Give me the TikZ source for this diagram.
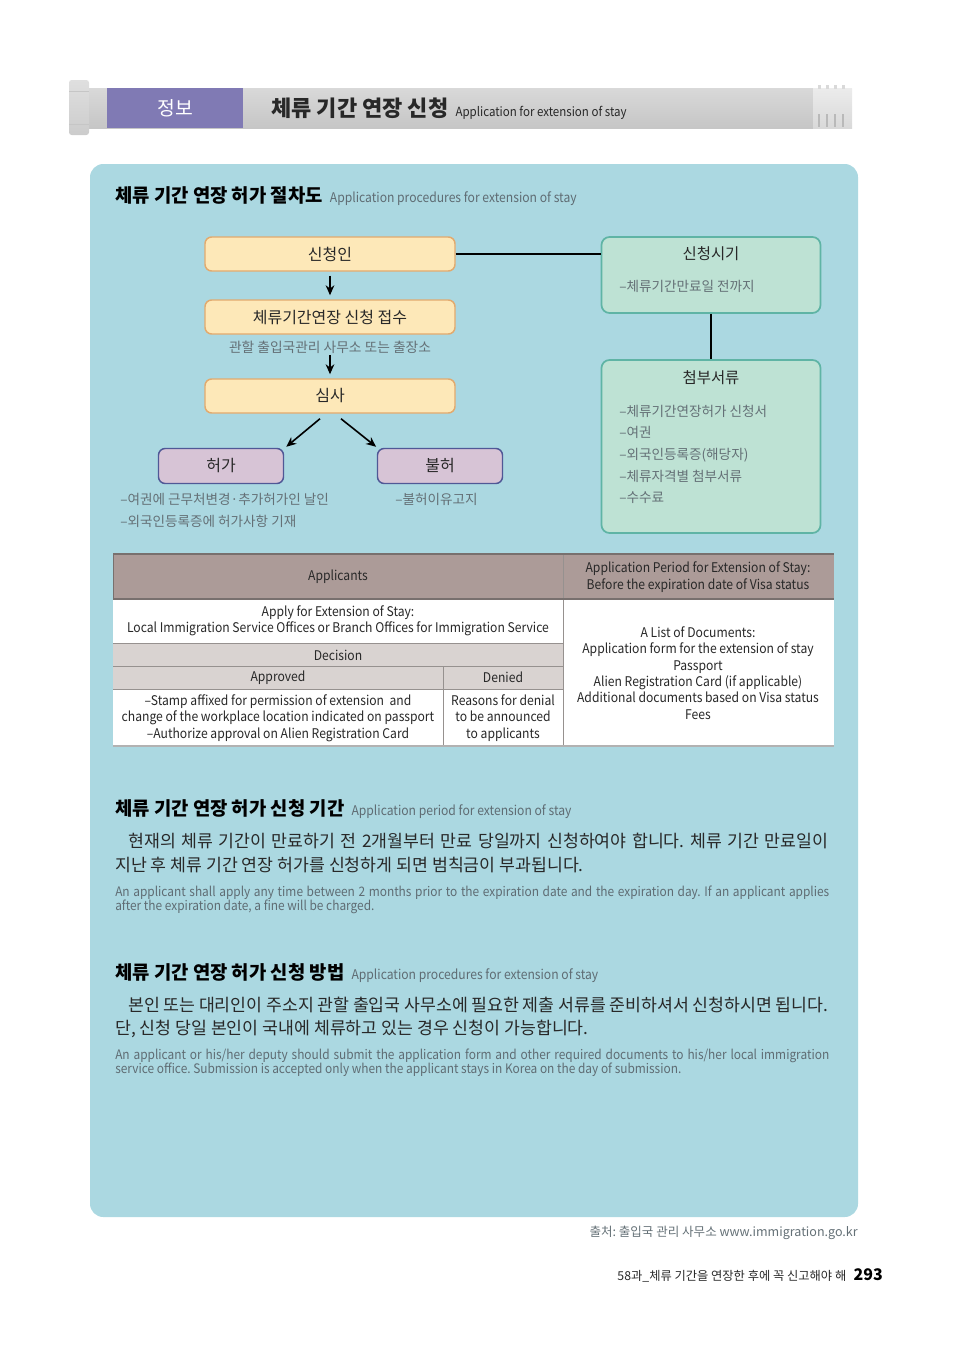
\documentclass[tikz,border=0pt]{standalone}
\usepackage{fontspec}
\setmainfont{Noto Sans CJK KR}
\newfontfamily\engfont[FakeStretch=0.91]{Noto Sans CJK KR}
\usetikzlibrary{arrows.meta,positioning}
\frenchspacing

\definecolor{panelblue}{RGB}{171,216,225}
\definecolor{flowfill}{RGB}{253,232,184}
\definecolor{flowedge}{RGB}{226,170,110}
\definecolor{resultfill}{RGB}{215,196,214}
\definecolor{resultedge}{RGB}{80,88,150}
\definecolor{infofill}{RGB}{190,226,212}
\definecolor{infoedge}{RGB}{95,180,165}
\definecolor{tagpurple}{RGB}{128,122,180}
\definecolor{tabhead}{RGB}{172,155,152}
\definecolor{tabgray}{RGB}{217,211,209}
\definecolor{tabrule}{RGB}{150,145,143}
\definecolor{tabedge}{RGB}{120,112,110}
\definecolor{notegray}{RGB}{100,112,118}
\definecolor{subgray}{RGB}{95,108,115}
\definecolor{inkdark}{RGB}{40,40,40}

\begin{document}
\begin{tikzpicture}
	[x=0.75pt,y=-0.75pt,
	flowbox/.style={draw=flowedge,fill=flowfill,rounded corners=5pt,line width=1.1pt,minimum width=187.5pt,minimum height=25.5pt,inner sep=0pt,font=\fontsize{12}{14}\selectfont,text=inkdark},
	resultbox/.style={draw=resultedge,fill=resultfill,rounded corners=5pt,line width=1.1pt,minimum width=93.75pt,minimum height=26.25pt,inner sep=0pt,font=\fontsize{12}{14}\selectfont,text=inkdark},
	infobox/.style={draw=infoedge,fill=infofill,rounded corners=6pt,line width=1.3pt,minimum width=164.25pt,inner sep=0pt},
	infohead/.style={font=\fontsize{11.6}{14}\selectfont,text=inkdark},
	item/.style={anchor=base west,inner sep=0pt,font=\fontsize{10.2}{12}\selectfont,text=notegray},
	note/.style={inner sep=1pt,font=\fontsize{10.3}{12}\selectfont,text=notegray},
	link/.style={line width=1.3pt,draw=black},
	flowarrow/.style={-{Stealth[length=7.5pt,width=6.5pt]},line width=1.2pt,shorten <=3pt,shorten >=3pt},
	sechead/.style={anchor=base west,inner sep=0pt,font=\bfseries\fontsize{14.1}{16}\selectfont,text=black},
	secsub/.style={anchor=base west,inner sep=0pt,font=\engfont\fontsize{10}{12}\selectfont,text=subgray},
	body/.style={anchor=base west,inner sep=0pt,font=\fontsize{12.95}{16}\selectfont,text=inkdark},
	bodyeng/.style={anchor=base west,inner sep=0pt,font=\engfont\fontsize{9.8}{11}\selectfont,text=subgray},
	cell/.style={align=center,inner sep=0pt,font=\engfont\fontsize{10}{12.3}\selectfont,text=inkdark}
	]
	\useasboundingbox (0,0) rectangle (960,1349);

	% title bar
	\shade[top color=gray!30,middle color=gray!8,bottom color=gray!45] (85,88) rectangle (813,128);
	\shade[top color=gray!15,middle color=gray!5,bottom color=gray!30] (813,88) rectangle (852,128);
	\foreach \t in {818,826,834,842}
	{
		\fill[gray!30] (\t,85) rectangle (\t+3,89);
		\fill[gray!55] (\t,114) rectangle (\t+2,127);
	}
	\shade[top color=gray!25,middle color=gray!8,bottom color=gray!40,rounded corners=2pt] (69,80) rectangle (89,135);
	\draw[gray!45] (69,91) -- (89,91) (69,124) -- (89,124);
	\node[fill=tagpurple,minimum width=102pt,minimum height=30pt,inner sep=0pt,text=white,font=\fontsize{14.5}{16}\selectfont] (tag) at (175,108) {정보};
	\node[anchor=base west,inner sep=0pt,font=\bfseries\fontsize{16.5}{18}\selectfont,text=inkdark] (title) at (271,116) {체류 기간 연장 신청};
	\node[anchor=base west,inner sep=0pt,font=\engfont\fontsize{9.5}{11}\selectfont,text=inkdark] (titlesub) at ([xshift=5pt]title.base east) {Application for extension of stay};

	% panel
	\fill[panelblue,rounded corners=10pt] (90,164) rectangle (858,1217);

	% procedure chart
	\node[sechead] (head1) at (115,202) {체류 기간 연장 허가 절차도};
	\node[secsub] (head1sub) at ([xshift=5pt]head1.base east) {Application procedures for extension of stay};

	\node[flowbox] (appl) at (330,254) {신청인};
	\node[flowbox] (recv) at (330,317) {체류기간연장 신청 접수};
	\node[note] (recvnote) at (330,347) {관할 출입국관리 사무소 또는 출장소};
	\node[flowbox] (exam) at (330,396) {심사};
	\node[resultbox] (grant) at (221,466) {허가};
	\node[resultbox] (deny) at (440,466) {불허};

	\draw[flowarrow] (appl) -- (recv);
	\draw[flowarrow,shorten <=0pt] (recvnote) -- (exam);
	\draw[flowarrow,shorten <=0pt,shorten >=0pt] ([xshift=-7.5pt,yshift=-3.75pt]exam.south) -- ([xshift=1.5pt,yshift=0.75pt]grant.north east);
	\draw[flowarrow,shorten <=0pt,shorten >=0pt] ([xshift=8.25pt,yshift=-3.75pt]exam.south) -- ([xshift=-0.5pt,yshift=0.75pt]deny.north west);

	\node[item] (grantA) at (120,504) {–여권에 근무처변경·추가허가인 날인};
	\node[item] (grantB) at (120,526) {–외국인등록증에 허가사항 기재};
	\node[item] (denyA) at (395,504) {–불허이유고지};

	\node[infobox,minimum height=57pt] (period) at (711,275) {};
	\node[infohead] (periodhead) at (711,254) {신청시기};
	\node[item] (periodA) at (619,291) {–체류기간만료일 전까지};

	\node[infobox,minimum height=129.75pt] (docs) at (711,446.5) {};
	\node[infohead] (docshead) at (711,378) {첨부서류};
	\node[item] (docsA) at (619,416) {–체류기간연장허가 신청서};
	\node[item] (docsB) at (619,437) {–여권};
	\node[item] (docsC) at (619,459) {–외국인등록증(해당자)};
	\node[item] (docsD) at (619,481) {–체류자격별 첨부서류};
	\node[item] (docsE) at (619,502) {–수수료};

	\draw[link] (appl.east) -- (appl.east -| period.west);
	\draw[link] (period.south) -- (docs.north);

	% table
	\fill[tabhead] (113,554) rectangle (834,599);
	\fill[white] (113,599) rectangle (834,746);
	\fill[tabgray] (113,643) rectangle (563,689);
	\draw[tabrule] (113,643) -- (563,643) (113,666) -- (563,666) (113,689) -- (563,689);
	\draw[tabrule] (563,554) -- (563,746) (443,666) -- (443,746);
	\draw[tabedge,line width=1pt] (113,554) -- (834,554) (113,599) -- (834,599);
	\draw[tabedge] (113,554) -- (113,599);
	\draw[gray!60,line width=1.5pt] (113,746) -- (834,746);

	\node[cell] (applicants) at (338,577) {Applicants};
	\node[cell] (periodcell) at (698,577) {Application Period for Extension of Stay:\\Before the expiration date of Visa status};
	\node[cell] (applycell) at (338,621) {Apply for Extension of Stay:\\Local Immigration Service Offices or Branch Offices for Immigration Service};
	\node[cell] (decision) at (338,655) {Decision};
	\node[cell] (approved) at (278,677.5) {Approved};
	\node[cell] (denied) at (503,677.5) {Denied};
	\node[cell] (approvedtext) at (278,718) {–Stamp affixed for permission of extension\ \ and\\change of the workplace location indicated on passport\\–Authorize approval on Alien Registration Card};
	\node[cell] (deniedtext) at (503,718) {Reasons for denial\\to be announced\\to applicants};
	\node[cell] (doclist) at (698,673) {A List of Documents:\\Application form for the extension of stay\\Passport\\Alien Registration Card (if applicable)\\Additional documents based on Visa status\\Fees};

	% application period
	\node[sechead] (head2) at (115,815) {체류 기간 연장 허가 신청 기간};
	\node[secsub] (head2sub) at ([xshift=5pt]head2.base east) {Application period for extension of stay};
	\node[body] (bodyA1) at (128,847.5) {\makebox[525pt][s]{현재의 체류 기간이 만료하기 전 2개월부터 만료 당일까지 신청하여야 합니다. 체류 기간 만료일이}};
	\node[body] (bodyA2) at (115,871.5) {지난 후 체류 기간 연장 허가를 신청하게 되면 범칙금이 부과됩니다.};
	\node[bodyeng] (engA1) at (115,896.5) {\makebox[535.5pt][s]{An applicant shall apply any time between 2 months prior to the expiration date and the expiration day. If an applicant applies}};
	\node[bodyeng] (engA2) at (115,910.5) {after the expiration date, a fine will be charged.};

	% application method
	\node[sechead] (head3) at (115,979) {체류 기간 연장 허가 신청 방법};
	\node[secsub] (head3sub) at ([xshift=5pt]head3.base east) {Application procedures for extension of stay};
	\node[body] (bodyB1) at (128,1011.5) {\makebox[525pt][s]{본인 또는 대리인이 주소지 관할 출입국 사무소에 필요한 제출 서류를 준비하셔서 신청하시면 됩니다.}};
	\node[body] (bodyB2) at (115,1034.5) {단, 신청 당일 본인이 국내에 체류하고 있는 경우 신청이 가능합니다.};
	\node[bodyeng] (engB1) at (115,1059.5) {\makebox[535.5pt][s]{An applicant or his/her deputy should submit the application form and other required documents to his/her local immigration}};
	\node[bodyeng] (engB2) at (115,1073.5) {service office. Submission is accepted only when the applicant stays in Korea on the day of submission.};

	% footer
	\node[anchor=base east,inner sep=0pt,font=\fontsize{9.4}{11}\selectfont,text=notegray] (source) at (858,1236) {출처: 출입국 관리 사무소 www.immigration.go.kr};
	\node[anchor=base east,inner sep=0pt,font=\bfseries\fontsize{12}{14}\selectfont,text=black] (pageno) at (883,1280) {293};
	\node[anchor=base east,inner sep=0pt,font=\fontsize{9.2}{11}\selectfont,text=inkdark] (chapter) at ([xshift=-5pt]pageno.base west) {58과\_체류 기간을 연장한 후에 꼭 신고해야 해};
\end{tikzpicture}
\end{document}
